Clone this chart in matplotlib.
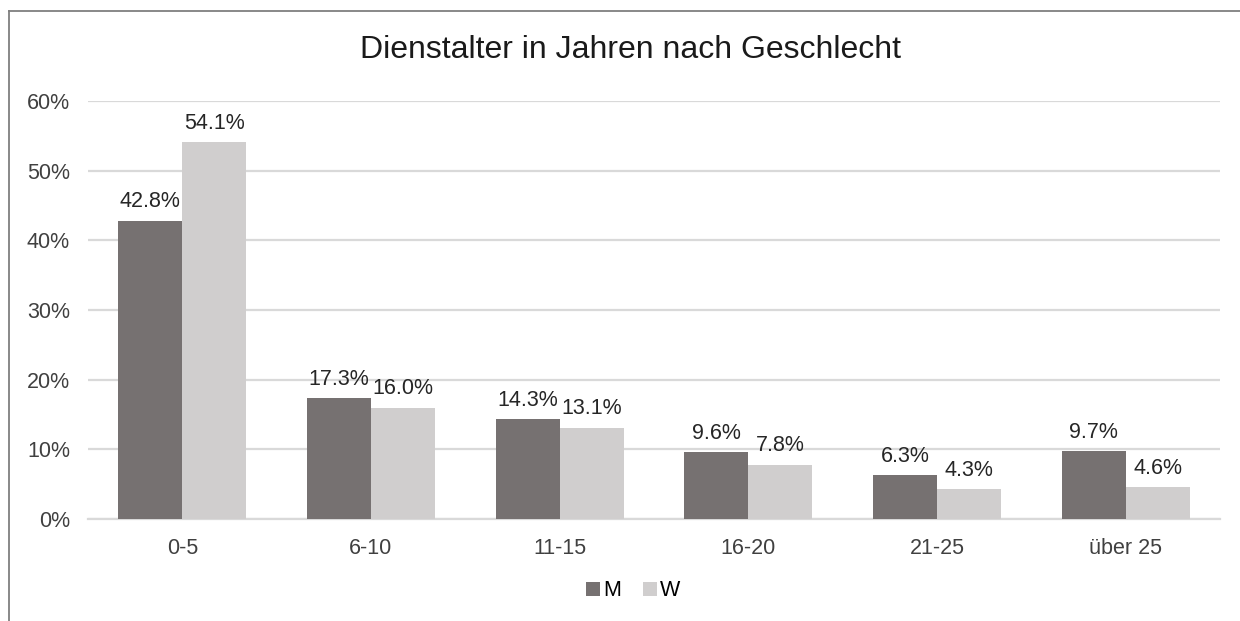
import numpy as np
import matplotlib.pyplot as plt
from matplotlib.lines import Line2D

plt.rcParams['font.family'] = ['Liberation Sans', 'DejaVu Sans']

categories = ['0-5', '6-10', '11-15', '16-20', '21-25', 'über 25']
m_values = [42.8, 17.3, 14.3, 9.6, 6.3, 9.7]
w_values = [54.1, 16.0, 13.1, 7.8, 4.3, 4.6]
y_ticks = [0, 10, 20, 30, 40, 50, 60]

dark = '#767171'
light = '#D0CECE'
grid_col = '#D9D9D9'

fig = plt.figure(figsize=(12.4, 6.21), dpi=100)
ax = fig.add_axes([88 / 1240, 1 - 519 / 621, 1132 / 1240, 418 / 621])

x = np.arange(len(categories))
w = 0.34
bm = ax.bar(x - w / 2, m_values, w, color=dark, label='M', zorder=3)
bw = ax.bar(x + w / 2, w_values, w, color=light, label='W', zorder=3)

for bars, vals in ((bm, m_values), (bw, w_values)):
    for b, v in zip(bars, vals):
        ax.annotate(f'{v:.1f}%', (b.get_x() + b.get_width() / 2, v),
                    xytext=(0, 6), textcoords='offset points',
                    ha='center', va='bottom', fontsize=15.5, color='#262626')

ax.set_xlim(-0.5, len(categories) - 0.5)
ax.set_ylim(0, 60)
ax.set_yticks(y_ticks)
ax.set_yticklabels([f'{t}%' for t in y_ticks])
ax.set_xticks(x)
ax.set_xticklabels(categories)
ax.tick_params(axis='both', length=0, labelsize=15.5, colors='#404040')
ax.tick_params(axis='y', pad=13)
ax.tick_params(axis='x', pad=14)
ax.yaxis.grid(True, color=grid_col, linewidth=1.6, zorder=0)
for s in ['top', 'right', 'left']:
    ax.spines[s].set_visible(False)
ax.spines['bottom'].set_color(grid_col)
ax.spines['bottom'].set_linewidth(1.6)

fig.suptitle('Dienstalter in Jahren nach Geschlecht', x=630 / 1240, y=1 - 50 / 621,
             va='center', fontsize=23, color='#1a1a1a')

fig.legend(handles=[bm, bw], loc='center', bbox_to_anchor=(633 / 1240, 1 - 591 / 621),
           ncol=2, frameon=False, fontsize=15.5, handlelength=0.65, handleheight=0.65,
           handletextpad=0.15, columnspacing=1.0)

# outer chart frame
frame = '#7f7f7f'
fig.add_artist(Line2D([9 / 1240, 9 / 1240], [0, 1 - 11 / 621], color=frame, lw=1.3))
fig.add_artist(Line2D([9 / 1240, 1], [1 - 11 / 621, 1 - 11 / 621], color=frame, lw=1.3))

fig.savefig('out.png', dpi=100)
